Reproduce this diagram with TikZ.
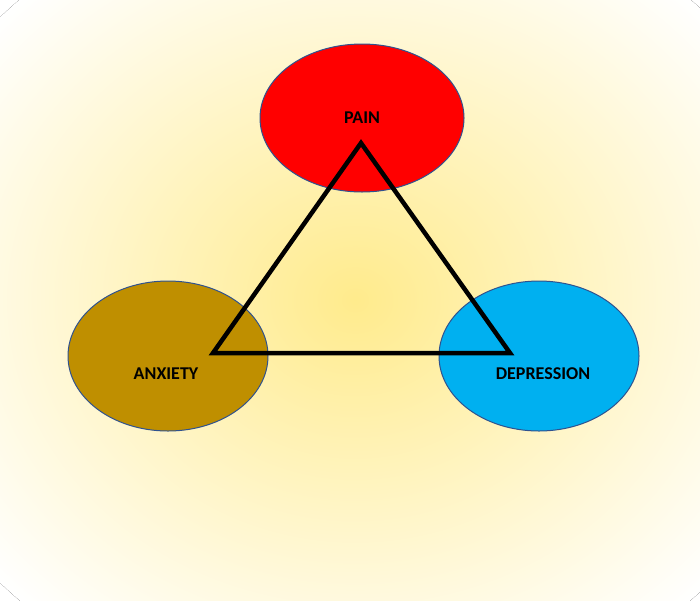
\documentclass[tikz,border=0pt]{standalone}
\usepackage{fontspec}
\setmainfont{Carlito}
\usetikzlibrary{shapes.geometric, positioning}

\begin{document}
\begin{tikzpicture}[x=1pt, y=-1pt,
  mood/.style={ellipse, draw={rgb,255:red,47;green,82;blue,143}, line width=1pt, minimum width=200pt, minimum height=150pt},
  tag/.style={font=\bfseries\fontsize{18}{20}\selectfont}]

% Background
\useasboundingbox (0,0) rectangle (700,600);
\begin{scope}
  \clip (0,0) rectangle (700,600);
  \fill[white] (0,0) rectangle (700,600);
  \fill[inner color=orange!35!yellow!45, outer color=white] (355,300) ellipse (480 and 420);
\end{scope}

% Ellipses
\node[mood, fill=red, minimum width=204pt, minimum height=148pt] (pain) at (362,118) {};
\node[mood, fill={rgb,255:red,191;green,143;blue,0}] (anxiety) at (168,356) {};
\node[mood, fill={rgb,255:red,0;green,176;blue,240}] (depression) at (539,356) {};

% Labels
\node[tag] (painlbl) at (pain.center) {PAIN};
\node[tag] (anxietylbl) at (166,374) {ANXIETY};
\node[tag] (depressionlbl) at (543,374) {DEPRESSION};

% Triangle
\coordinate (top) at (361,143);
\coordinate (left) at (213,353);
\coordinate (right) at (510,353);
\draw[line width=4.5pt, line join=miter] (top) -- (left) -- (right) -- cycle;

\end{tikzpicture}
\end{document}
